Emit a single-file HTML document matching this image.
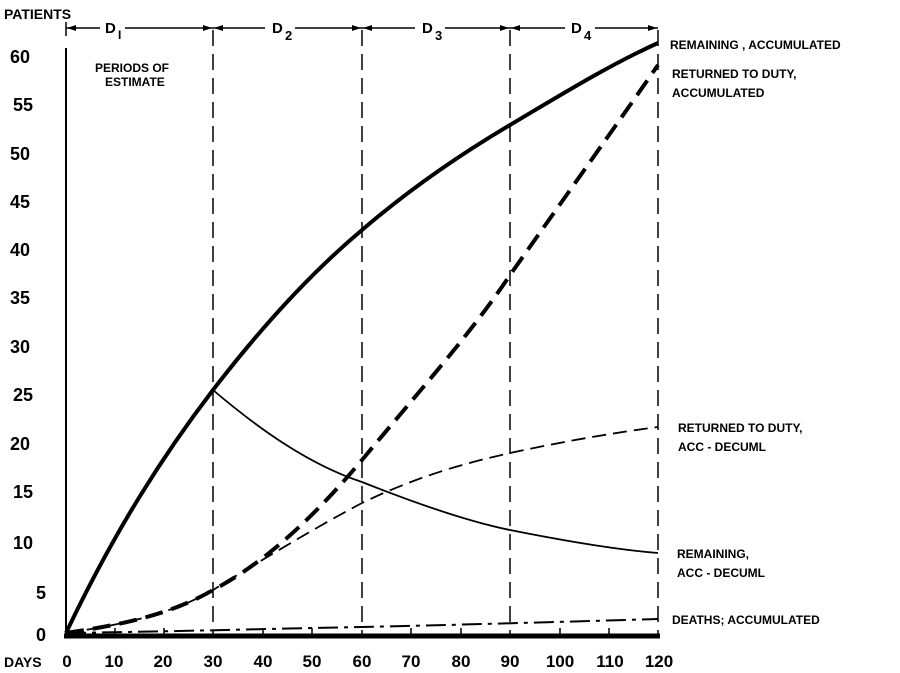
<!DOCTYPE html>
<html><head><style>
body{margin:0;background:#fff}
svg{display:block}
text{font-family:"Liberation Sans",Arial,sans-serif;font-weight:bold;fill:#000}
</style></head><body>
<svg width="900" height="673" viewBox="0 0 900 673" xmlns="http://www.w3.org/2000/svg">
<g font-size="18">
<text x="10" y="63">60</text><text x="13" y="111">55</text><text x="10" y="160">50</text>
<text x="10" y="208">45</text><text x="10" y="256">40</text><text x="10" y="304">35</text>
<text x="10" y="353">30</text><text x="13" y="401">25</text><text x="10" y="450">20</text>
<text x="13" y="498">15</text><text x="13" y="549">10</text><text x="36" y="599">5</text>
<text x="36" y="641">0</text>
</g>
<text x="4" y="19" font-size="14">PATIENTS</text>
<text x="4" y="667" font-size="14">DAYS</text>
<g font-size="17" text-anchor="middle">
<text x="67" y="667">0</text><text x="114" y="667">10</text><text x="163" y="667">20</text>
<text x="213" y="667">30</text><text x="263" y="667">40</text><text x="312" y="667">50</text>
<text x="362" y="667">60</text><text x="411" y="667">70</text><text x="461" y="667">80</text>
<text x="510" y="667">90</text><text x="560" y="667">100</text><text x="610" y="667">110</text>
<text x="659" y="667">120</text>
</g>
<line x1="66" y1="48" x2="66" y2="636" stroke="#000" stroke-width="2"/>
<line x1="64" y1="636" x2="660" y2="636" stroke="#000" stroke-width="5"/>
<g stroke="#000" stroke-width="1.5">
<line x1="115" y1="628" x2="115" y2="636"/><line x1="164" y1="628" x2="164" y2="636"/>
<line x1="263" y1="628" x2="263" y2="636"/><line x1="312" y1="628" x2="312" y2="636"/>
<line x1="411" y1="628" x2="411" y2="636"/><line x1="461" y1="628" x2="461" y2="636"/>
<line x1="560" y1="628" x2="560" y2="636"/><line x1="609" y1="628" x2="609" y2="636"/>
</g>
<g stroke="#000" stroke-width="1.5" stroke-dasharray="16,8">
<line x1="213" y1="30" x2="213" y2="636"/><line x1="362" y1="30" x2="362" y2="636"/>
<line x1="510" y1="30" x2="510" y2="636"/><line x1="658" y1="30" x2="658" y2="636"/>
</g>
<g stroke="#000" stroke-width="1.5">
<line x1="66" y1="22" x2="66" y2="36"/><line x1="66" y1="28" x2="100" y2="28"/><line x1="125" y1="28" x2="213" y2="28"/>
<line x1="213" y1="28" x2="265" y2="28"/><line x1="295" y1="28" x2="362" y2="28"/>
<line x1="362" y1="28" x2="415" y2="28"/><line x1="445" y1="28" x2="510" y2="28"/>
<line x1="510" y1="28" x2="565" y2="28"/><line x1="595" y1="28" x2="658" y2="28"/>
</g>
<g fill="#000">
<polygon points="67,28 76,25 76,31"/><polygon points="212,28 203,25 203,31"/>
<polygon points="214,28 223,25 223,31"/><polygon points="361,28 352,25 352,31"/>
<polygon points="363,28 372,25 372,31"/><polygon points="509,28 500,25 500,31"/>
<polygon points="511,28 520,25 520,31"/><polygon points="657,28 648,25 648,31"/>
</g>
<g font-size="15">
<text x="105" y="33">D</text><text x="118" y="39" font-size="12">I</text>
<text x="272" y="33">D</text><text x="285" y="40" font-size="13">2</text>
<text x="422" y="33">D</text><text x="435" y="40" font-size="13">3</text>
<text x="571" y="33">D</text><text x="584" y="40" font-size="13">4</text>
</g>
<text x="95" y="72" font-size="12">PERIODS OF</text>
<text x="105" y="86" font-size="12">ESTIMATE</text>
<path d="M66,633 C115,530 164,454 213,390 C263,325 312,272 362,230 C411,188 461,154 510,125 C559,96 609,65 658,43" fill="none" stroke="#000" stroke-width="4"/>
<path d="M66,633 C120,625 170,615 213,590 C270,560 320,510 362,460 C420,390 470,335 510,275 C570,190 620,120 658,65" fill="none" stroke="#000" stroke-width="4" stroke-dasharray="18,9"/>
<path d="M213,390 C260,430 310,465 362,482 C420,505 470,522 510,530 C570,542 620,550 658,553" fill="none" stroke="#000" stroke-width="1.8"/>
<path d="M66,633 C120,625 170,615 213,590 C270,555 320,525 362,503 C420,475 470,462 510,453 C570,440 620,432 658,427" fill="none" stroke="#000" stroke-width="1.8" stroke-dasharray="14,7"/>
<path d="M66,633 C200,631 300,628 362,627 C450,625 560,622 658,619" fill="none" stroke="#000" stroke-width="2" stroke-dasharray="20,6,4,6"/>
<g font-size="12" font-weight="normal">
<text x="670" y="49">REMAINING , ACCUMULATED</text>
<text x="672" y="78">RETURNED TO DUTY,</text>
<text x="672" y="97">ACCUMULATED</text>
<text x="678" y="432">RETURNED TO DUTY,</text>
<text x="678" y="451">ACC - DECUML</text>
<text x="677" y="558">REMAINING,</text>
<text x="677" y="577">ACC - DECUML</text>
<text x="672" y="624">DEATHS; ACCUMULATED</text>
</g>
</svg>
</body></html>
